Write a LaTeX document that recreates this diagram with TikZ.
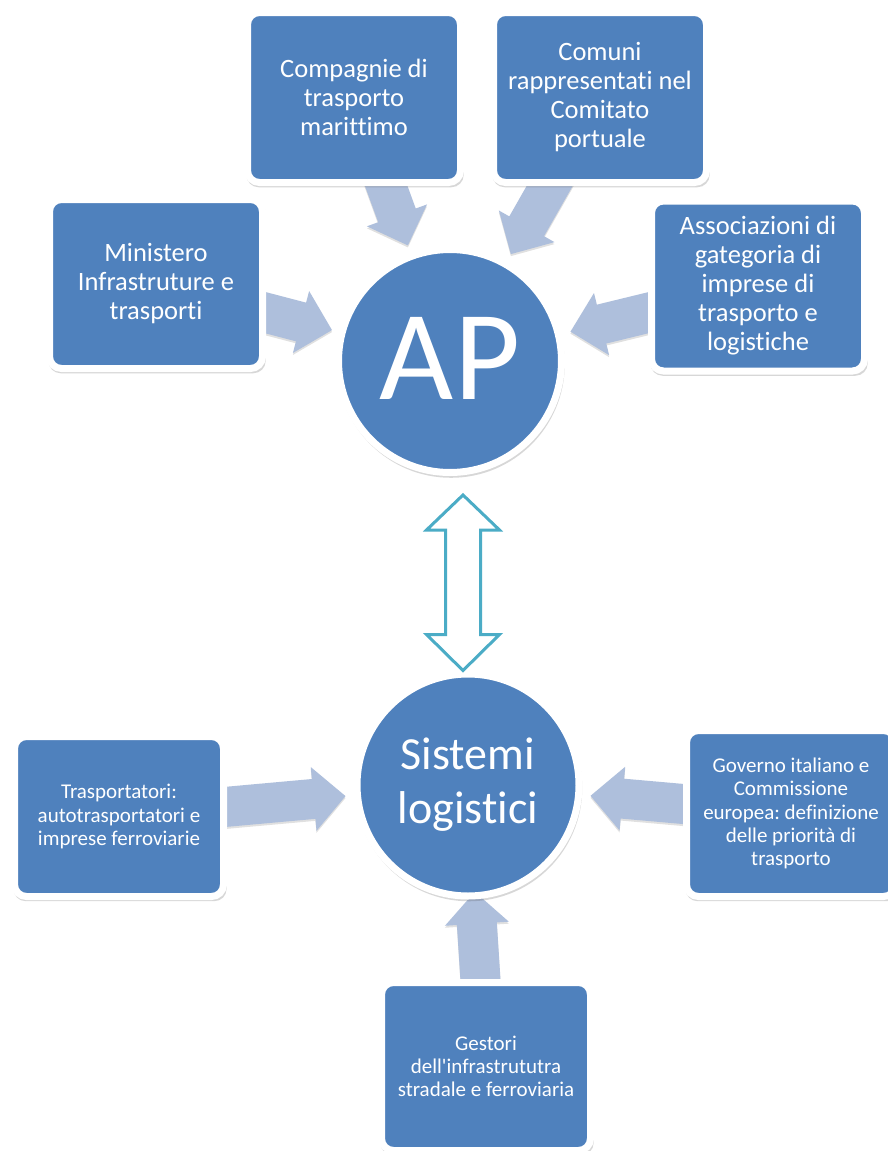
\documentclass[tikz,border=0pt]{standalone}
\usepackage{fontspec}
\setmainfont{Carlito}[Ligatures=NoCommon]
\frenchspacing
\usetikzlibrary{calc,shadows}
\definecolor{boxblue}{HTML}{4F81BD}
\definecolor{arrowc}{HTML}{AEBFDC}
\definecolor{dblteal}{HTML}{4BACC6}
\tikzset{
  boxshadow/.style={general shadow={shadow scale=1.02, shadow xshift=1pt, shadow yshift=-3pt, opacity=0.22, fill=black!70}},
  bigbox/.style={rectangle, rounded corners=12pt, fill=boxblue, draw=white, line width=7pt,
    text=white, align=center, inner sep=4pt, font=\fontsize{26.5}{29}\selectfont, boxshadow},
  smallbox/.style={bigbox, font=\fontsize{21}{23.3}\selectfont},
  hub/.style={circle, fill=boxblue, draw=white, line width=7pt, text=white, align=center,
    inner sep=0pt, boxshadow},
  arrowfill/.style={fill=arrowc, drop shadow={shadow xshift=0pt, shadow yshift=-2pt, opacity=0.12, fill=black}},
  dblarrow/.style={draw=dblteal, line width=3pt, fill=white, line join=miter}
}
% #1 name prefix, #2 start point, #3 tip point
\newcommand\blockarrow[3]{%
  \coordinate (#1b) at ($(#3)!32pt!(#2)$);
  \path[arrowfill] ($(#2)!20pt!90:(#3)$) -- ($(#1b)!20pt!90:(#3)$) -- ($(#1b)!32pt!90:(#3)$)
    -- (#3) -- ($(#1b)!32pt!-90:(#3)$) -- ($(#1b)!20pt!-90:(#3)$) -- ($(#2)!20pt!-90:(#3)$) -- cycle;
}
\begin{document}
\begin{tikzpicture}[x=1pt,y=-1pt]
\useasboundingbox (0,0) rectangle (888,1151);
\fill[white] (0,0) rectangle (888,1151);

% node positions (centres)
\coordinate (apc) at (450,361);
\coordinate (sisc) at (468,785);
\coordinate (minc) at (156,284);
\coordinate (compc) at (354,97.5);
\coordinate (comc) at (600,97.5);
\coordinate (assc) at (758,286);
\coordinate (trac) at (119,816.5);
\coordinate (govc) at (791,813.5);
\coordinate (gesc) at (486,1066.5);

% arrow tips
\coordinate (t1) at ($(apc)!122pt!(minc)$);
\coordinate (t2) at ($(apc)!123pt!(compc)$);
\coordinate (t3) at ($(apc)!123pt!(comc)$);
\coordinate (t4) at ($(apc)!124pt!(assc)$);
\coordinate (t5) at ($(sisc)!123pt!(trac)$);
\coordinate (t6) at ($(sisc)!123pt!(govc)$);
\coordinate (t7) at ($(sisc)!107pt!(gesc)$);

\blockarrow{a1}{minc}{t1}
\blockarrow{a2}{compc}{t2}
\blockarrow{a3}{comc}{t3}
\blockarrow{a4}{assc}{t4}
\blockarrow{a5}{trac}{t5}
\blockarrow{a6}{govc}{t6}
\blockarrow{a7}{gesc}{t7}

% hubs
\node[hub, minimum size=223pt, font=\fontsize{128}{128}\selectfont] (ap) at (apc) {\raisebox{6pt}{AP}};
\node[hub, minimum size=222pt, font=\fontsize{46}{54}\selectfont] (sis) at (sisc) {Sistemi\\logistici};

% boxes
\node[bigbox, minimum width=213pt, minimum height=169pt] (min) at (minc) {Ministero\\Infrastruture e\\trasporti};
\node[bigbox, minimum width=213pt, minimum height=170pt] (comp) at (compc) {Compagnie di\\trasporto\\marittimo};
\node[bigbox, minimum width=213pt, minimum height=170pt] (com) at (comc) {Comuni\\rappresentati nel\\Comitato\\portuale};
\node[bigbox, minimum width=213pt, minimum height=170pt] (ass) at (assc) {Associazioni di\\gategoria di\\imprese di\\trasporto e\\logistiche};
\node[smallbox, minimum width=209pt, minimum height=160pt] (tra) at (trac) {Trasportatori:\\autotrasportatori e\\imprese ferroviarie};
\node[smallbox, minimum width=209pt, minimum height=166pt] (gov) at (govc) {Governo italiano e\\Commissione\\europea: definizione\\delle priorità di\\trasporto};
\node[smallbox, minimum width=209pt, minimum height=168pt] (ges) at (gesc) {Gestori\\dell\textquotesingle infrastrututra\\stradale e ferroviaria};

% double arrow between AP and Sistemi logistici
\coordinate (dt) at ($(ap.south)+(13,19)$);
\coordinate (db) at ($(sis.north)+(-5,0)$);
\path[dblarrow] (dt) -- ($(dt)+(36.5,35)$) -- ($(dt)+(17.5,35)$) -- ($(db)+(17.5,-36)$)
  -- ($(db)+(36.5,-36)$) -- (db) -- ($(db)+(-36.5,-36)$) -- ($(db)+(-17.5,-36)$)
  -- ($(dt)+(-17.5,35)$) -- ($(dt)+(-36.5,35)$) -- cycle;
\end{tikzpicture}
\end{document}
